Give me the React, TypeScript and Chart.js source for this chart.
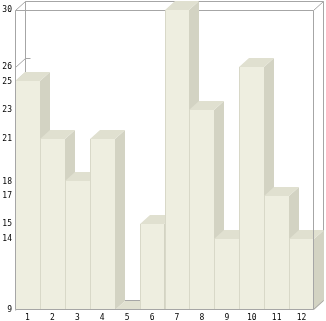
import React, { useEffect, useRef } from 'react';
import { Chart, registerables } from 'chart.js';

Chart.register(...registerables);

const categories = ['1', '2', '3', '4', '5', '6', '7', '8', '9', '10', '11', '12'];
const values = [25, 21, 18, 21, 9, 15, 30, 23, 14, 26, 17, 14];
const yTicks = [9, 14, 15, 17, 18, 21, 23, 25, 26, 30];
const yMin = 9;
const yMax = 30;

const DX = 10;
const DY = -9;
const FRONT = '#eeeee0';
const TOP = '#e0e0d0';
const SIDE = '#d3d3c3';
const EDGE = '#d8d8c8';
const FRAME = '#a6a6a6';
const FONT = { family: 'DejaVu Sans Mono', size: 8 };

function line(ctx: CanvasRenderingContext2D, pts: number[][]) {
  ctx.beginPath();
  ctx.moveTo(pts[0][0], pts[0][1]);
  for (let i = 1; i < pts.length; i++) ctx.lineTo(pts[i][0], pts[i][1]);
  ctx.stroke();
}

function poly(ctx: CanvasRenderingContext2D, pts: number[][], color: string) {
  ctx.beginPath();
  ctx.moveTo(pts[0][0], pts[0][1]);
  for (let i = 1; i < pts.length; i++) ctx.lineTo(pts[i][0], pts[i][1]);
  ctx.closePath();
  ctx.fillStyle = color;
  ctx.fill();
}

const box3d = {
  id: 'box3d',
  beforeDatasetsDraw(chart: any) {
    const { ctx, chartArea, scales } = chart;
    const L = Math.round(chartArea.left) + 0.5;
    const R = Math.round(chartArea.right) - 0.5;
    const T = Math.round(chartArea.top) + 0.5;
    const B = Math.round(chartArea.bottom) - 0.5;
    ctx.save();
    ctx.strokeStyle = FRAME;
    ctx.lineWidth = 1;
    line(ctx, [[L + DX, B + DY], [L + DX, T + DY], [R + DX, T + DY], [R + DX, B + DY]]);
    line(ctx, [[L + DX, B + DY], [R + DX, B + DY]]);
    line(ctx, [[L, T], [R, T]]);
    line(ctx, [[R, T], [R + DX, T + DY]]);
    line(ctx, [[L, B], [L + DX, B + DY]]);
    yTicks.forEach((t) => {
      const py = Math.round(scales.y.getPixelForValue(t)) + 0.5;
      line(ctx, [[L, py], [L + DX, py + DY], [L + DX + 5, py + DY]]);
    });
    ctx.restore();
  },
  beforeDatasetDraw() {
    return false;
  },
  afterDatasetsDraw(chart: any) {
    const { ctx, chartArea } = chart;
    const meta = chart.getDatasetMeta(0);
    ctx.save();
    meta.data.forEach((bar: any) => {
      const { x, y, base, width } = bar.getProps(['x', 'y', 'base', 'width'], true);
      const l = Math.round(x - width / 2);
      const r = Math.round(x + width / 2);
      const t = Math.round(y);
      const b = Math.round(Math.min(base, chartArea.bottom));
      poly(ctx, [[r, t], [r + DX, t + DY], [r + DX, b + DY], [r, b]], SIDE);
      poly(ctx, [[l, t], [r, t], [r + DX, t + DY], [l + DX, t + DY]], TOP);
      if (b > t) {
        ctx.fillStyle = FRONT;
        ctx.fillRect(l, t, r - l, b - t);
        ctx.strokeStyle = EDGE;
        ctx.lineWidth = 1;
        line(ctx, [[l + 0.5, t], [l + 0.5, b]]);
      }
    });
    const L = Math.round(chartArea.left) + 0.5;
    const R = Math.round(chartArea.right) - 0.5;
    const T = Math.round(chartArea.top) + 0.5;
    const B = Math.round(chartArea.bottom) - 0.5;
    ctx.strokeStyle = FRAME;
    ctx.lineWidth = 1;
    line(ctx, [[L, T], [L, B], [R, B], [R, T]]);
    line(ctx, [[R, B], [R + DX, B + DY]]);
    ctx.restore();
  },
};

export default function App() {
  const ref = useRef<HTMLCanvasElement>(null);
  useEffect(() => {
    document.body.style.margin = '0';
    const chart = new Chart(ref.current as HTMLCanvasElement, {
      type: 'bar',
      data: {
        labels: categories,
        datasets: [
          {
            data: values,
            base: yMin,
            backgroundColor: FRONT,
            barPercentage: 1,
            categoryPercentage: 1,
            borderWidth: 0,
          },
        ],
      },
      options: {
        responsive: false,
        animation: false,
        layout: { padding: { top: 10, right: 12, left: 0, bottom: 0 } },
        plugins: { legend: { display: false }, tooltip: { enabled: false } },
        scales: {
          x: {
            grid: { display: false, drawTicks: false, tickLength: 0 },
            border: { display: false },
            ticks: { font: FONT, color: '#000', padding: 3, maxRotation: 0, autoSkip: false },
            afterFit(s: any) {
              s.height = 11;
            },
          },
          y: {
            min: yMin,
            max: yMax,
            grid: { display: false, drawTicks: false, tickLength: 0 },
            border: { display: false },
            ticks: { font: FONT, color: '#000', padding: 3, autoSkip: false },
            afterBuildTicks(s: any) {
              s.ticks = yTicks.map((v) => ({ value: v }));
            },
            afterFit(s: any) {
              s.width = 15;
            },
          },
        },
      },
      plugins: [box3d],
    } as any);
    return () => chart.destroy();
  }, []);
  return (
    <div style={{ width: 326, height: 321 }}>
      <canvas ref={ref} width={326} height={321} style={{ display: 'block' }} />
    </div>
  );
}
